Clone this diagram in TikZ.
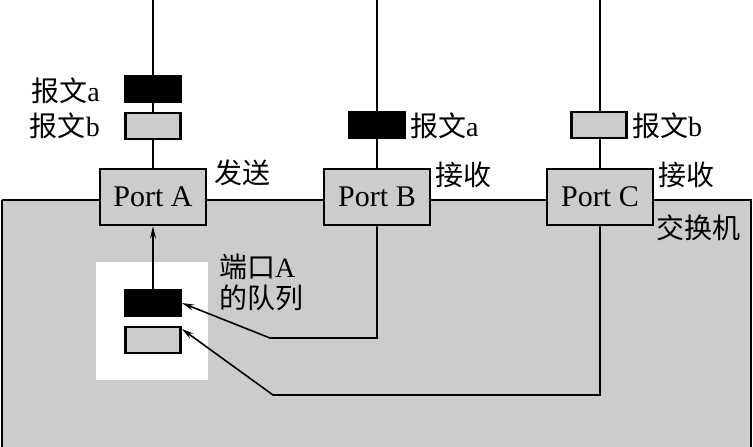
\documentclass[tikz,border=0pt]{standalone}
\usepackage{fontspec}
\setmainfont{Liberation Serif}
\newfontfamily\cjk{Noto Sans CJK SC}
\usetikzlibrary{arrows.meta}
\definecolor{sw}{RGB}{204,204,204}
\begin{document}
\begin{tikzpicture}[x=1pt,y=-1pt,
  port/.style={draw,line width=2.8pt,fill=sw,minimum width=106pt,minimum height=56pt,inner sep=0pt,font=\fontsize{30}{32}\selectfont},
  pblack/.style={draw,line width=2.8pt,fill=black,minimum width=55pt,minimum height=26pt,inner sep=0pt},
  pgray/.style={draw,line width=2.8pt,fill=sw,minimum width=55pt,minimum height=26pt,inner sep=0pt},
  lbl/.style={font=\cjk\fontsize{28}{31}\selectfont,inner sep=0pt,align=left},
  lat/.style={},
  wire/.style={line width=1.7pt},
  arr/.style={line width=1.6pt,-{Stealth[length=12pt,width=6pt]}}]
\useasboundingbox (0,0) rectangle (753,447);
% switch body
\draw[line width=2.8pt,fill=sw] (2,200) -- (751,200) -- (751,447) (2,447) -- (2,200);
\fill[sw] (3.4,201.4) rectangle (749.6,447);
% queue area
\fill[white] (96,262) rectangle (208,380);
% upper wires
\coordinate (ta) at (153,0);
\coordinate (tb) at (377,0);
\coordinate (tc) at (600,0);
\node[port] (pa) at (153,197) {Port A};
\node[port] (pb) at (377,197) {Port B};
\node[port] (pc) at (600,197) {Port C};
\draw[wire] (ta) -- (pa.north);
\draw[wire] (tb) -- (pb.north);
\draw[wire] (tc) -- (pc.north);
% packets at A
\node[pblack] (a1) at (153,89) {};
\node[pgray] (a2) at (153,126) {};
\node[lbl,anchor=east] (la1) at (100,91) {报文\fontspec{Liberation Serif}a};
\node[lbl,anchor=east] (la2) at (100,126) {报文\fontspec{Liberation Serif}b};
% packet at B
\node[pblack] (b1) at (377,125) {};
\node[lbl,anchor=west] (lb1) at (410,126) {报文\fontspec{Liberation Serif}a};
% packet at C
\node[pgray] (c1) at (599,125) {};
\node[lbl,anchor=west] (lc1) at (632,126) {报文\fontspec{Liberation Serif}b};
% port labels
\node[lbl,anchor=west] (sa) at (214,173) {发送};
\node[lbl,anchor=west] (rb) at (435,175) {接收};
\node[lbl,anchor=west] (rc) at (658,175) {接收};
\node[lbl,anchor=west] (sw) at (656,228) {交换机};
% queue
\node[pblack] (q1) at (153,303) {};
\node[pgray] (q2) at (153,340) {};
\node[lbl,anchor=north west] (ql) at (219,254) {端口\fontspec{Liberation Serif}A\\的队列};
\draw[arr] (q1.north) -- (pa.south);
\coordinate (b2) at (377,338);
\coordinate (b3) at (270,338);
\draw[arr] (pb.south) -- (b2) -- (b3) -- (q1.east);
\coordinate (c2) at (600,395);
\coordinate (c3) at (273,395);
\draw[arr] (pc.south) -- (c2) -- (c3) -- ([yshift=11pt]q2.east);
\end{tikzpicture}
\end{document}
